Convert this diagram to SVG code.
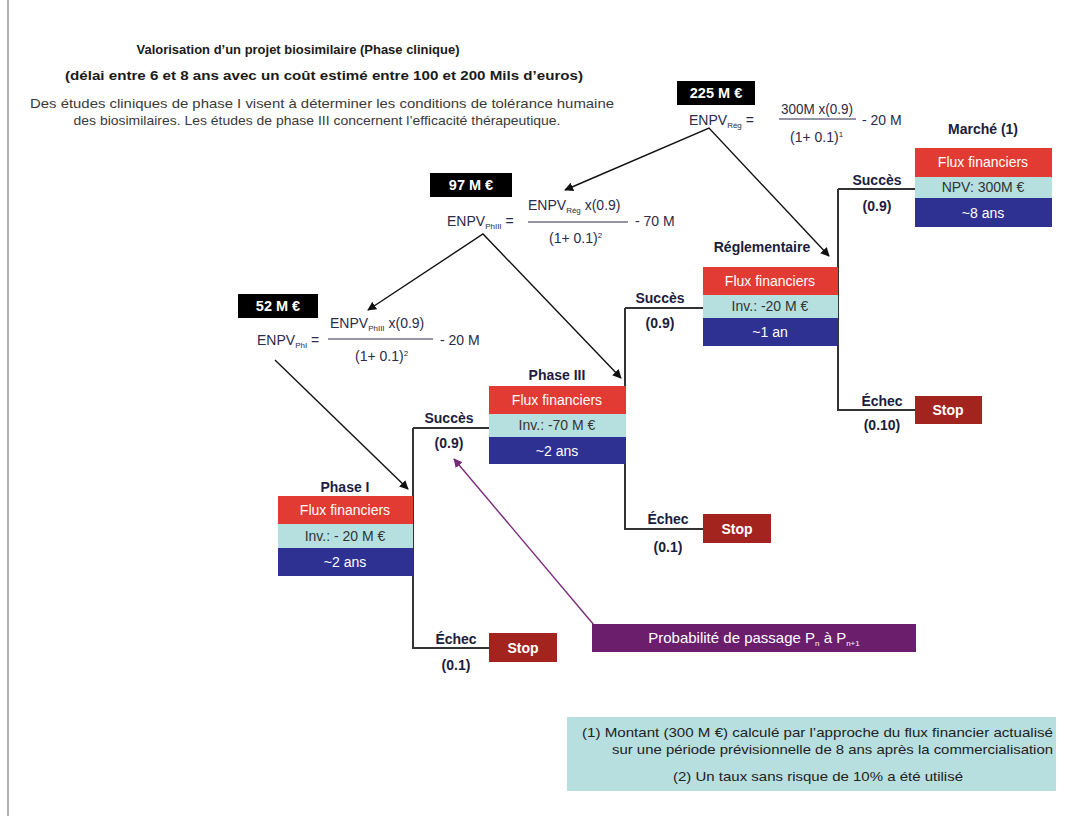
<svg xmlns="http://www.w3.org/2000/svg" width="1081" height="816" viewBox="0 0 1081 816">
<defs>
<marker id="ah" viewBox="0 0 10 10" refX="9" refY="5" markerWidth="9" markerHeight="9" markerUnits="userSpaceOnUse" orient="auto-start-reverse"><path d="M0,0 L10,5 L0,10 z" fill="#111"/></marker>
<marker id="ahp" viewBox="0 0 10 10" refX="9" refY="5" markerWidth="9" markerHeight="9" markerUnits="userSpaceOnUse" orient="auto"><path d="M0,0 L10,5 L0,10 z" fill="#7a2a7a"/></marker>
<style>
text{font-family:"Liberation Sans",Arial,sans-serif;}
.t{font-size:13px;font-weight:bold;fill:#1a1a1a;text-anchor:middle}
.d{font-size:13px;fill:#3a3a3a;text-anchor:middle}
.red{fill:#E23B33}.teal{fill:#B6E0DF}.blue{fill:#2E3192}
.stop{fill:#A3231F}
.w{font-size:14px;fill:#fff;text-anchor:middle}
.wb{font-size:14px;fill:#fff;text-anchor:middle;font-weight:bold}
.bb{font-size:14.5px;fill:#fff;text-anchor:middle;font-weight:bold}
.k{font-size:14px;fill:#333;text-anchor:middle}
.lab{font-size:14px;font-weight:bold;fill:#1c1c3c;text-anchor:middle}
.f{font-size:14px;fill:#2b2b4b}
.sub{font-size:8px}
.tree{fill:none;stroke:#333;stroke-width:2}
.arr{fill:none;stroke:#111;stroke-width:1.4}
.n{font-size:13px;fill:#222}
</style>
</defs>
<rect width="1081" height="816" fill="#fff"/>
<line x1="8" y1="0" x2="8" y2="816" stroke="#999" stroke-width="1.5"/>

<g id="title">
<text class="t" x="298" y="54" textLength="323" lengthAdjust="spacingAndGlyphs">Valorisation d’un projet biosimilaire (Phase clinique)</text>
<text class="t" x="324" y="80" textLength="518" lengthAdjust="spacingAndGlyphs">(délai entre 6 et 8 ans  avec un coût estimé entre 100 et 200 Mils d’euros)</text>
<text class="d" x="322" y="108" textLength="584" lengthAdjust="spacingAndGlyphs">Des études cliniques de phase I visent à déterminer les conditions de tolérance humaine</text>
<text class="d" x="317" y="125" textLength="487" lengthAdjust="spacingAndGlyphs">des biosimilaires. Les études de phase III concernent l’efficacité thérapeutique.</text>
</g>

<g id="connectors">
<path class="tree" d="M413,428 H489 M413,428 V648 H489"/>
<path class="tree" d="M625,308 H703 M625,308 V529 H703"/>
<path class="tree" d="M838,189 H915 M838,189 V410 H915"/>
<path class="arr" d="M565,190 L709,128 L829,256" marker-start="url(#ah)" marker-end="url(#ah)"/>
<path class="arr" d="M368,310 L483,234 L621,378" marker-start="url(#ah)" marker-end="url(#ah)"/>
<path class="arr" d="M275,360 L408,489" marker-end="url(#ah)"/>
<path d="M594,625 L454,459" fill="none" stroke="#7a2a7a" stroke-width="1.4" marker-end="url(#ahp)"/>
</g>

<g id="enpv-reg">
<rect x="677" y="81" width="78" height="24" fill="#000"/>
<text class="bb" x="716" y="98">225 M €</text>
<text class="f" x="689" y="125">ENPV<tspan class="sub" dy="3">Rég</tspan><tspan dy="-3"> =</tspan></text>
<text class="f" x="781" y="114" textLength="72" lengthAdjust="spacingAndGlyphs">300M x(0.9)</text>
<line x1="779" y1="119" x2="856" y2="119" stroke="#2b2b4b" stroke-width="1.2"/>
<text class="f" x="790" y="142">(1+ 0.1)<tspan class="sub" dy="-5">1</tspan></text>
<text class="f" x="862" y="125">- 20 M</text>
</g>

<g id="enpv-ph3">
<rect x="430" y="173" width="82" height="24" fill="#000"/>
<text class="bb" x="471" y="190">97 M €</text>
<text class="f" x="447" y="226">ENPV<tspan class="sub" dy="3">PhIII</tspan><tspan dy="-3"> =</tspan></text>
<text class="f" x="528" y="210">ENPV<tspan class="sub" dy="3">Rég</tspan><tspan dy="-3"> x(0.9)</tspan></text>
<line x1="528" y1="222" x2="628" y2="222" stroke="#2b2b4b" stroke-width="1.2"/>
<text class="f" x="549" y="243">(1+ 0.1)<tspan class="sub" dy="-5">2</tspan></text>
<text class="f" x="635" y="226">- 70 M</text>
</g>

<g id="enpv-ph1">
<rect x="238" y="294" width="80" height="24" fill="#000"/>
<text class="bb" x="278" y="311">52 M €</text>
<text class="f" x="257" y="345">ENPV<tspan class="sub" dy="3">PhI</tspan><tspan dy="-3"> =</tspan></text>
<text class="f" x="330" y="328">ENPV<tspan class="sub" dy="3">PhIII</tspan><tspan dy="-3"> x(0.9)</tspan></text>
<line x1="328" y1="339" x2="433" y2="339" stroke="#2b2b4b" stroke-width="1.2"/>
<text class="f" x="355" y="361">(1+ 0.1)<tspan class="sub" dy="-5">2</tspan></text>
<text class="f" x="440" y="345">- 20 M</text>
</g>

<g id="phase1">
<text class="lab" x="345" y="492">Phase I</text>
<rect class="red" x="278" y="496" width="135" height="28"/>
<rect class="teal" x="278" y="524" width="135" height="24"/>
<rect class="blue" x="278" y="548" width="135" height="28"/>
<text class="w" x="345" y="515">Flux financiers</text>
<text class="k" x="345" y="541">Inv.: - 20 M €</text>
<text class="w" x="345" y="567">~2 ans</text>
</g>

<g id="phase3">
<text class="lab" x="557" y="380">Phase III</text>
<rect class="red" x="489" y="386" width="137" height="28"/>
<rect class="teal" x="489" y="414" width="137" height="23"/>
<rect class="blue" x="489" y="437" width="137" height="27"/>
<text class="w" x="557" y="405">Flux financiers</text>
<text class="k" x="557" y="430">Inv.: -70 M €</text>
<text class="w" x="557" y="456">~2 ans</text>
</g>

<g id="reglementaire">
<text class="lab" x="762" y="252">Réglementaire</text>
<rect class="red" x="703" y="267" width="135" height="28"/>
<rect class="teal" x="703" y="295" width="135" height="23"/>
<rect class="blue" x="703" y="318" width="135" height="28"/>
<text class="w" x="770" y="286">Flux financiers</text>
<text class="k" x="770" y="311">Inv.: -20 M €</text>
<text class="w" x="770" y="337">~1 an</text>
</g>

<g id="marche">
<text class="lab" x="983" y="134">Marché (1)</text>
<rect class="red" x="915" y="148" width="137" height="29"/>
<rect class="teal" x="915" y="177" width="137" height="21"/>
<rect class="blue" x="915" y="198" width="137" height="29"/>
<text class="w" x="983" y="167">Flux financiers</text>
<text class="k" x="983" y="192">NPV:  300M €</text>
<text class="w" x="983" y="218">~8 ans</text>
</g>

<g id="stop1">
<rect class="stop" x="489" y="633" width="68" height="29"/>
<text class="wb" x="523" y="653">Stop</text>
</g>
<g id="stop3">
<rect class="stop" x="703" y="514" width="68" height="29"/>
<text class="wb" x="737" y="534">Stop</text>
</g>
<g id="stop-reg">
<rect class="stop" x="915" y="396" width="67" height="28"/>
<text class="wb" x="948" y="415">Stop</text>
</g>

<g id="branch-labels">
<text class="lab" x="449" y="423">Succès</text>
<text class="lab" x="449" y="448">(0.9)</text>
<text class="lab" x="456" y="644">Échec</text>
<text class="lab" x="456" y="670">(0.1)</text>
<text class="lab" x="660" y="303">Succès</text>
<text class="lab" x="660" y="328">(0.9)</text>
<text class="lab" x="668" y="524">Échec</text>
<text class="lab" x="668" y="552">(0.1)</text>
<text class="lab" x="877" y="185">Succès</text>
<text class="lab" x="877" y="211">(0.9)</text>
<text class="lab" x="882" y="406">Échec</text>
<text class="lab" x="882" y="430">(0.10)</text>
</g>

<g id="probabilite">
<rect x="592" y="624" width="324" height="28" fill="#6B1E6B"/>
<text class="w" x="754" y="643" style="font-size:15px">Probabilité de passage P<tspan class="sub" dy="3">n</tspan><tspan dy="-3"> à P</tspan><tspan class="sub" dy="3">n+1</tspan></text>
</g>

<g id="note">
<rect x="567" y="717" width="489" height="74" fill="#B7DFE0"/>
<text class="n" x="1053" y="737" text-anchor="end" textLength="471" lengthAdjust="spacingAndGlyphs">(1) Montant (300 M €) calculé par l’approche du  flux financier actualisé</text>
<text class="n" x="1053" y="754" text-anchor="end" textLength="441" lengthAdjust="spacingAndGlyphs">sur une période prévisionnelle de 8 ans après la commercialisation</text>
<text class="n" x="818" y="781" text-anchor="middle" textLength="290" lengthAdjust="spacingAndGlyphs">(2) Un taux sans risque de 10% a été utilisé</text>
</g>
</svg>
